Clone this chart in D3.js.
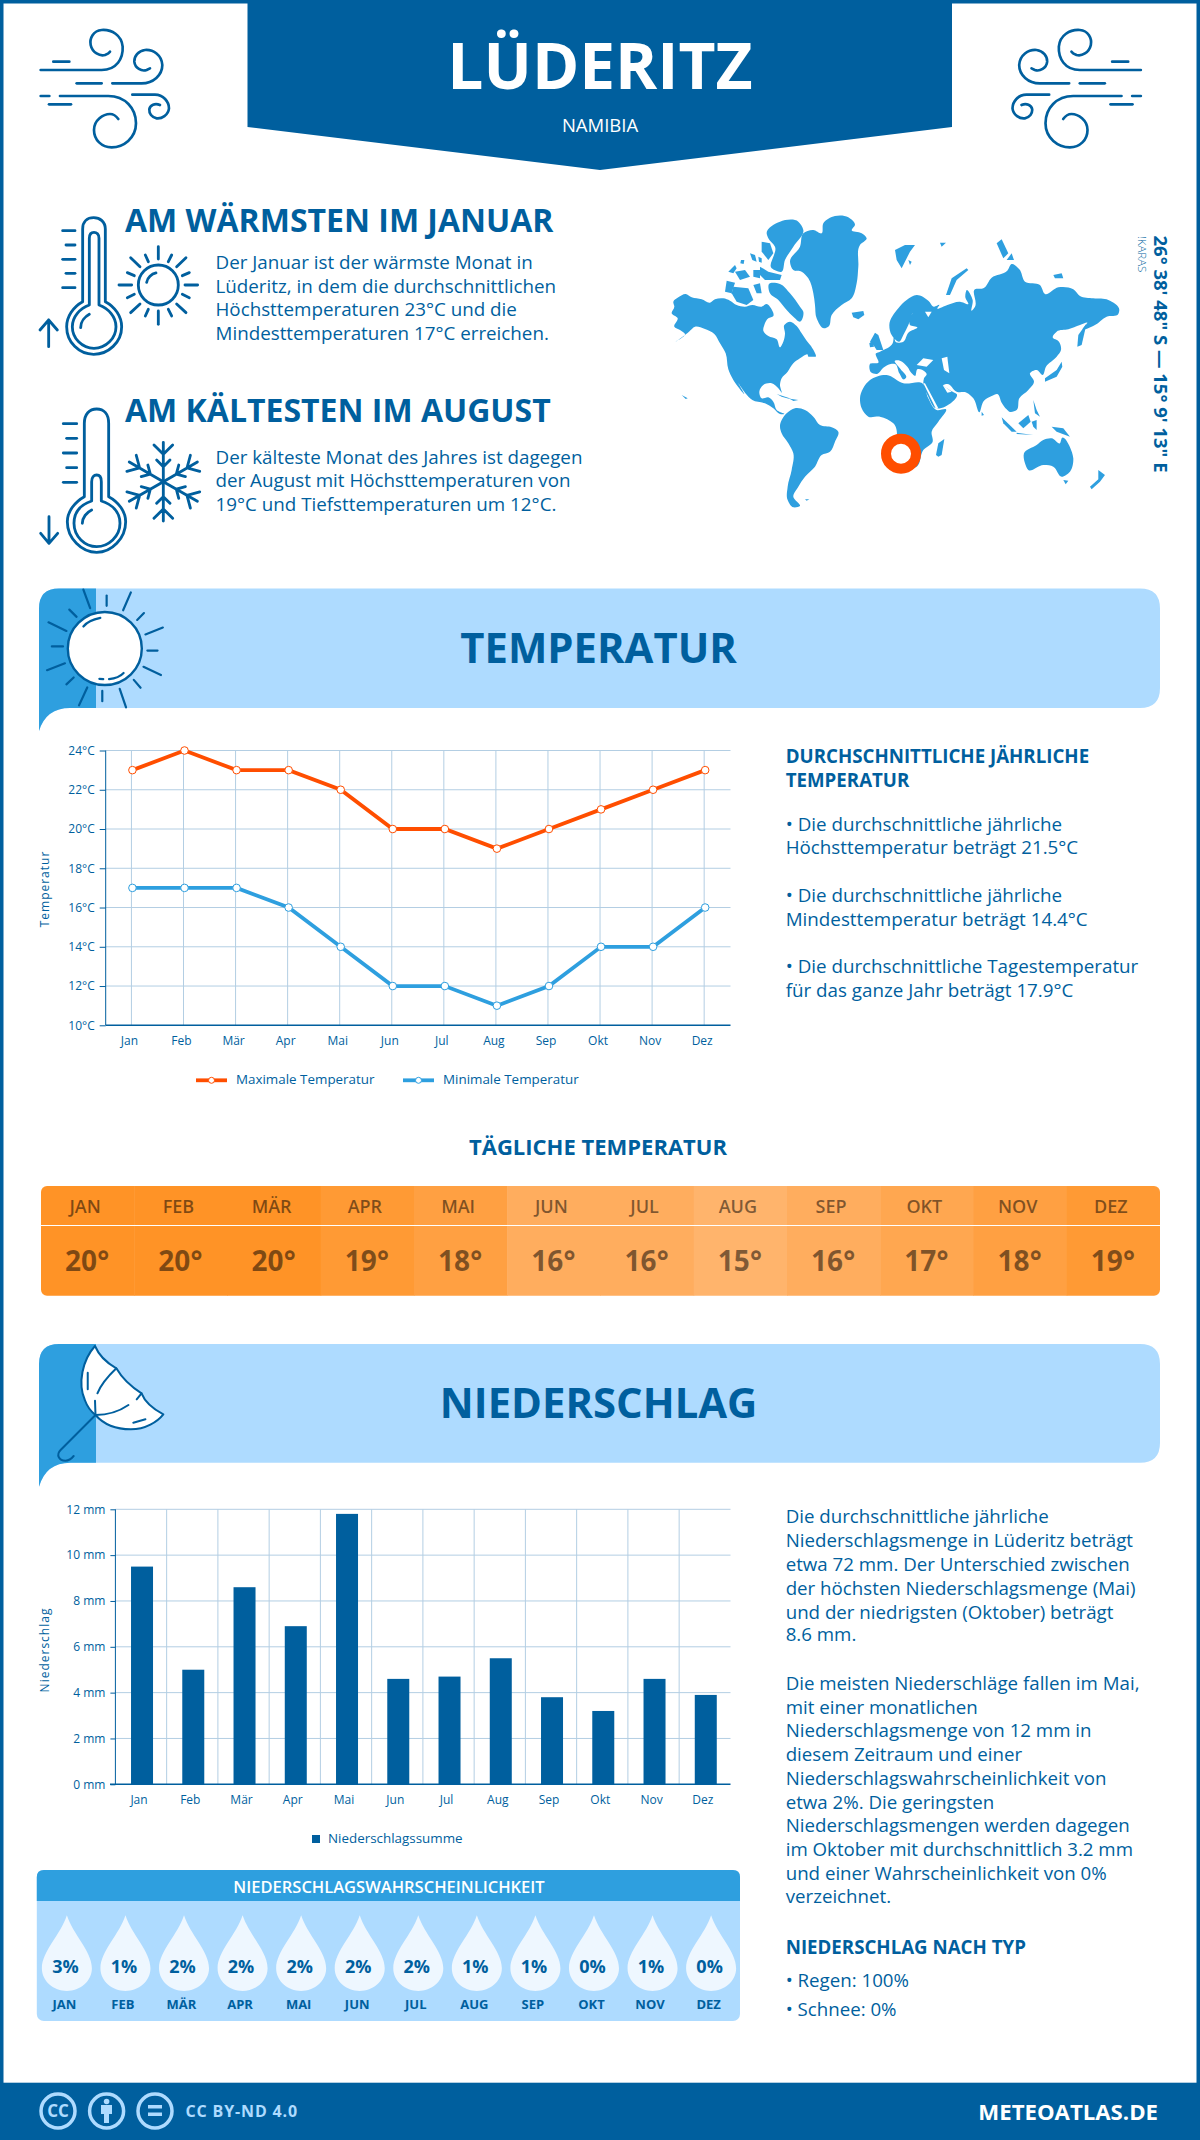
<!DOCTYPE html>
<html lang="de"><head><meta charset="utf-8"><title>Lüderitz</title>
<script src="https://cdnjs.cloudflare.com/ajax/libs/d3/7.8.5/d3.min.js"></script>
<style>html,body{margin:0;padding:0;background:#fff}svg{display:block}text{font-family:"Open Sans",sans-serif}</style>
</head><body><svg id="c" width="1200" height="2140" viewBox="0 0 1200 2140"></svg>
<script>
const months=["Jan","Feb","Mär","Apr","Mai","Jun","Jul","Aug","Sep","Okt","Nov","Dez"];
const maxTemp=[23,24,23,23,22,20,20,19,20,21,22,23];
const minTemp=[17,17,17,16,14,12,12,11,12,14,14,16];
const dailyTemp=[20,20,20,19,18,16,16,15,16,17,18,19];
const precip=[9.5,5,8.6,6.9,11.8,4.6,4.7,5.5,3.8,3.2,4.6,3.9];
const precipProb=[3,1,2,2,2,2,2,1,1,0,1,0];
const tempTicks=[10,12,14,16,18,20,22,24];
const precipTicks=[0,2,4,6,8,10,12];

const DARK="#005f9e",MID="#2e9fdf",LIGHT="#aedbff",RED="#ff4e00";
const svg=d3.select("#c");
function txt(p,x,y,s,o={}){const t=p.append("text").attr("x",x).attr("y",y).text(s)
 .attr("fill",o.fill||DARK).attr("font-size",o.size||19).attr("font-weight",o.weight||400)
 .attr("text-anchor",o.anchor||"start");
 if(o.ls)t.attr("letter-spacing",o.ls);if(o.op)t.attr("fill-opacity",o.op);if(o.tf)t.attr("transform",o.tf);return t;}
function lines(arr,x,ys,o){arr.forEach((s,i)=>txt(svg,x,ys[i],s,o));}

/* frame + header */
svg.append("rect").attr("x",1.75).attr("y",1.75).attr("width",1196.5).attr("height",2136).attr("fill","#fff").attr("stroke",DARK).attr("stroke-width",3.5);
svg.append("path").attr("fill",DARK).attr("d","M247.5,0H952V127L600,170L247.5,127Z");
txt(svg,600,88.5,"LÜDERITZ",{fill:"#fff",size:64,weight:700,anchor:"middle"});
txt(svg,600,131.5,"NAMIBIA",{fill:"#fff",size:18.5,anchor:"middle"});

/* wind icons */
const windPaths=["M32,150H215C260,150 280,115 278,80C275,45 245,28 215,30C190,32 178,55 182,75C187,98 210,110 225,105C232,102 238,98 240,95","M70,125H118","M247,190H335C370,190 397,165 397,135C395,105 370,88 345,90C325,92 312,110 313,125C315,145 335,155 350,150L360,145","M140,190H215","M32,228H58","M90,228H235C285,228 318,265 318,310C318,355 280,382 245,382C215,382 192,360 192,330C192,300 220,282 240,282C250,282 260,290 265,297","M57,253H123","M307,224H375C400,224 417,245 417,265C415,285 395,297 380,295C365,292 357,280 358,268C360,255 375,248 390,255"];
function icon(tf,paths,sw){const g=svg.append("g").attr("transform",tf).attr("fill","none").attr("stroke",DARK).attr("stroke-width",sw).attr("stroke-linecap","round").attr("stroke-linejoin","round");
 g.selectAll("path").data(paths).join("path").attr("d",d=>d);return g;}
icon("translate(30,20) scale(.3333)",windPaths,8);
icon("translate(1151.5,20) scale(-.3333,.3333)",windPaths,8);

/* thermometers */
const ticks5=(a,b,c,ys)=>ys.map((y,i)=>`M${i%2?b:a},${y}H${c}`);
const thermoHot=["M158,290V72C158,50 172,38 191,38C210,38 226,50 226,72V290C255,305 275,335 275,365C275,412 235,448 191,448C147,448 110,412 110,365C110,335 130,305 158,290Z","M178,300V100C178,88 184,82 192,82C200,82 207,88 207,100V300C235,310 258,335 258,365C258,400 228,430 192,430C156,430 127,400 127,365C127,335 150,310 178,300Z","M152,368C152,350 165,335 178,328","M56,425V345M30,375L56,345L82,375",...ticks5(98,108,135,[77,120,163,205,248])];
const sunSmall=["M385,125V162","M385,318V358","M267,240H305","M465,240H503","M302,158L330,185","M468,158L440,185","M302,323L330,297","M468,323L440,297","M346,150L355,170","M425,150L415,170","M292,203L313,212","M478,203L457,212","M292,278L313,268","M478,278L457,268","M346,333L355,313","M425,333L415,313","M350,232C352,218 365,207 378,204"];
const g1=icon("translate(30,205) scale(.3333)",[...thermoHot,...sunSmall],8.5);
g1.append("circle").attr("cx",385).attr("cy",240).attr("r",60);
const thermoCold=["M163,305V85C163,58 178,42 200,42C222,42 236,58 236,85V305C265,320 287,350 287,380C287,430 245,472 200,472C155,472 112,430 112,380C112,350 135,320 163,305Z","M185,318V260C185,247 192,240 200,240C208,240 214,247 214,260V318C245,328 270,350 270,385C270,425 235,455 200,455C165,455 132,425 132,385C132,350 155,328 185,318Z","M157,385C157,368 170,352 185,345","M57,365V445M32,415L57,445L83,415",...ticks5(100,110,140,[86,130,174,218,262])];
const g2=icon("translate(30,395) scale(.3333)",thermoCold,8.5);
const flake=g2.append("g");
d3.range(6).forEach(i=>{flake.append("path").attr("transform",`rotate(${i*60} 400 260)`).attr("d","M400,260V142M372,150L400,178L428,150M380,195L400,215L420,195");});

/* intro text */
txt(svg,125,232,"AM WÄRMSTEN IM JANUAR",{size:32,weight:700});
lines(["Der Januar ist der wärmste Monat in","Lüderitz, in dem die durchschnittlichen","Höchsttemperaturen 23°C und die","Mindesttemperaturen 17°C erreichen."],215.5,[269,292.5,316,340],{size:18.8});
txt(svg,125,421.8,"AM KÄLTESTEN IM AUGUST",{size:32,weight:700});
lines(["Der kälteste Monat des Jahres ist dagegen","der August mit Höchsttemperaturen von","19°C und Tiefsttemperaturen um 12°C."],215.5,[463.5,487,510.5],{size:18.8});

/* world map: coast outlines (traced in 3x crop units) */
const mapWest=[
[[20,310],[28,290],[25,275],[40,262],[62,252],[80,262],[110,268],[135,278],[150,268],[175,265],[195,272],[215,285],[240,290],[262,285],[290,290],[305,282],[318,295],[325,318],[310,325],[298,345],[295,362],[310,378],[335,388],[345,412],[355,395],[360,372],[358,345],[375,335],[395,348],[410,370],[425,392],[438,408],[452,440],[430,432],[405,445],[385,460],[368,485],[350,505],[345,525],[350,548],[340,535],[320,520],[295,525],[283,545],[290,565],[310,562],[325,575],[335,600],[358,612],[345,612],[325,595],[300,580],[262,570],[240,548],[220,520],[238,552],[205,510],[190,478],[182,430],[165,400],[148,372],[118,356],[90,350],[72,365],[32,395],[60,372],[45,360],[28,350],[38,325]],
[[312,222],[345,222],[375,250],[405,290],[415,305],[405,335],[385,320],[365,300],[340,270],[315,250]],
[[205,230],[250,235],[265,270],[245,285],[215,275],[200,250]],[[185,212],[210,218],[200,250],[180,245]],[[265,225],[285,220],[290,250],[275,250]],
[[305,70],[345,35],[400,35],[415,60],[385,110],[360,150],[350,185],[320,175],[330,110],[310,85]],[[290,95],[315,100],[325,130],[310,150],[290,125]],
[[285,170],[310,185],[350,195],[345,210],[300,210],[285,195]],[[190,185],[210,165],[215,175],[205,190]],[[210,185],[240,180],[255,200],[225,210]],[[265,180],[285,180],[285,205],[265,200]],
[[255,130],[270,135],[275,155],[262,150]],[[228,150],[238,150],[236,162],[226,160]],[[280,140],[290,145],[290,158],[282,155]],[[425,425],[445,430],[450,440],[430,440]],
[[375,155],[405,110],[415,70],[445,60],[470,70],[475,40],[510,18],[550,22],[570,45],[560,60],[590,70],[605,85],[585,105],[580,170],[575,220],[560,265],[530,285],[500,315],[490,350],[478,355],[455,325],[450,285],[445,250],[430,205],[410,185],[385,180]],
[[560,308],[595,303],[598,315],[580,328],[565,322]],
[[345,650],[365,610],[390,595],[420,600],[445,620],[465,645],[500,652],[520,665],[510,695],[495,725],[470,735],[450,770],[420,800],[400,830],[385,860],[405,888],[385,892],[368,870],[368,830],[380,780],[385,730],[370,700],[350,670]],
[[335,552],[365,562],[385,570],[350,560]],[[375,566],[400,570],[385,573]],[[50,555],[68,565],[62,567]],[[420,868],[433,868],[425,872]]];
const mapEast=[
[[30,462],[33,487],[50,492],[72,472],[92,462],[105,462],[118,490],[132,508],[138,503],[122,478],[105,452],[120,452],[142,470],[155,490],[165,498],[172,478],[195,485],[200,492],[192,505],[190,520],[205,560],[228,595],[255,590],[290,552],[272,542],[250,525],[262,522],[290,545],[320,548],[340,565],[358,607],[372,572],[395,558],[412,552],[425,578],[440,598],[448,605],[470,600],[478,565],[505,540],[522,515],[510,490],[530,480],[548,495],[558,470],[590,440],[603,420],[597,395],[578,382],[590,365],[625,358],[660,345],[682,338],[668,358],[705,345],[740,320],[775,312],[778,300],[745,270],[700,265],[660,258],[640,238],[595,232],[555,252],[540,225],[495,215],[478,178],[455,162],[442,182],[395,203],[370,235],[345,238],[345,290],[335,302],[338,270],[320,240],[316,262],[325,282],[300,275],[262,285],[232,295],[238,285],[222,290],[205,272],[170,255],[140,270],[115,295],[88,345],[95,375],[118,395],[130,375],[145,345],[158,308],[150,345],[172,352],[145,368],[130,395],[108,397],[102,370],[98,400],[60,425],[48,430],[55,458]],
[[30,395],[45,368],[55,375],[70,420],[50,420],[40,405]],[[28,400],[38,392],[42,410],[30,412]],
[[0,565],[30,510],[80,495],[130,520],[187,520],[205,565],[230,600],[258,598],[235,635],[215,665],[218,695],[190,720],[170,770],[135,775],[115,730],[100,640],[60,620],[25,620],[5,595]],
[[228,735],[235,700],[253,687],[245,735],[235,740]],[[425,622],[470,665],[455,665],[430,640]],[[470,668],[520,675],[470,672]],[[475,640],[505,615],[512,635],[490,655]],[[515,635],[530,630],[530,660],[520,650]],[[575,650],[610,655],[630,680],[590,665]],[[520,570],[530,600],[540,620],[525,610]],[[555,505],[590,480],[605,455],[607,470],[590,500],[555,515]],[[655,375],[680,340],[665,405],[652,410]],[[365,605],[372,615],[365,617]],
[[492,730],[530,705],[550,690],[575,685],[600,700],[605,685],[640,745],[630,785],[605,800],[580,770],[550,765],[505,780],[495,760]],
[[610,810],[625,812],[617,823]],[[715,780],[735,795],[720,815],[695,838],[690,830],[715,808]],
[[105,120],[135,105],[165,105],[150,125],[125,175],[110,150]],[[145,150],[155,155],[150,165]],[[240,98],[258,98],[245,110]],
[[258,255],[275,205],[320,175],[325,180],[290,210],[270,255]],[[410,100],[425,88],[445,130],[430,145]],[[440,150],[455,130],[462,150]],[[580,195],[605,190],[610,205],[585,205]]];
const mapWhite=[[[170,465],[190,445],[220,450],[200,470]],[[245,445],[262,440],[268,490],[252,480]],[[248,525],[275,545],[262,548]],[[190,520],[195,520],[235,595],[228,597]],[[195,305],[215,305],[205,322]]];
const smooth=d3.line().curve(d3.curveCatmullRomClosed.alpha(1));
const sharp=d3.line().curve(d3.curveLinearClosed);
const ln=d=>d.length>8?smooth(d):sharp(d);
svg.append("g").attr("transform","translate(665,210) scale(.3333)").selectAll("path").data(mapWest).join("path").attr("fill",MID).attr("d",ln);
const east=svg.append("g").attr("transform","translate(860,210) scale(.3333)");
east.selectAll("path.l").data(mapEast).join("path").attr("class","l").attr("fill",MID).attr("d",ln);
east.selectAll("path.w").data(mapWhite).join("path").attr("class","w").attr("fill","#fff").attr("d",sharp);
svg.append("circle").attr("cx",901).attr("cy",453.7).attr("r",15).attr("fill","#fff").attr("stroke",RED).attr("stroke-width",10);
txt(svg,0,0,"26° 38' 48\" S — 15° 9' 13\" E",{size:18.5,weight:700,tf:"translate(1154,235.5) rotate(90)"});
txt(svg,0,0,"!KARAS",{size:11.5,weight:300,tf:"translate(1138,236) rotate(90)"});

/* section banners */
function banner(y0,y1,y2,title,base){
 svg.append("path").attr("fill",LIGHT).attr("d",`M39,${y2}V${y0+20}Q39,${y0} 59,${y0}H1140Q1160,${y0} 1160,${y0+20}V${y1-20}Q1160,${y1} 1140,${y1}H70Q46,${y1} 39,${y2}Z`);
 svg.append("path").attr("fill",MID).attr("d",`M39,${y2}V${y0+20}Q39,${y0} 59,${y0}H96V${y1}H70Q46,${y1} 39,${y2}Z`);
 txt(svg,598.6,base,title,{size:41.8,weight:700,anchor:"middle"});
}
banner(588.6,708,731,"TEMPERATUR",662.6);
banner(1344,1462.7,1486.7,"NIEDERSCHLAG",1418);

/* big sun */
const zx=x=>x/2.063,zy=y=>580+y/2.904;
const bigRays=[[172,28,186,82],[220,45,220,75],[254,88,270,36],[283,116,297,96],[300,158,336,138],[304,205,325,205],[296,252,332,276],[276,290,290,313],[247,316,260,370],[211,322,211,352],[180,312,163,364],[152,283,137,303],[134,242,97,262],[130,193,107,193],[137,148,100,123],[158,107,143,86]];
svg.append("g").attr("stroke",DARK).attr("stroke-width",2.2).attr("stroke-linecap","round").selectAll("line").data(bigRays).join("line")
 .attr("x1",d=>zx(d[0])).attr("y1",d=>zy(d[1])).attr("x2",d=>zx(d[2])).attr("y2",d=>zy(d[3]));
svg.append("ellipse").attr("cx",104.8).attr("cy",648.5).attr("rx",37).attr("ry",36.5).attr("fill","#fff").attr("stroke",DARK).attr("stroke-width",2.4);
svg.append("path").attr("fill","none").attr("stroke",DARK).attr("stroke-width",2.2).attr("stroke-linecap","round").attr("d",`M${zx(172)},${zy(135)}Q${zx(182)},${zy(117)} ${zx(207)},${zy(110)}M${zx(225)},${zy(288)}Q${zx(245)},${zy(285)} ${zx(255)},${zy(270)}M${zx(205)},${zy(287)}L${zx(213)},${zy(288)}`);

/* umbrella */
const ux=x=>x/2.063,uy=y=>1120+y/3;
const P=(...a)=>a.map(d=>`${ux(d[0])},${uy(d[1])}`);
const um=svg.append("g").attr("fill","none").attr("stroke",DARK).attr("stroke-width",2).attr("stroke-linecap","round").attr("stroke-linejoin","round");
um.append("path").attr("fill","#fff").attr("d",`M${P([196,678])}C${P([170,720],[160,790],[175,840])}C${P([180,860],[188,875],[197,885])}C${P([215,915],[240,928],[270,928])}C${P([300,928],[325,905],[337,883])}C${P([320,870],[300,850],[292,820])}C${P([270,800],[250,770],[240,745])}C${P([222,730],[205,710],[196,678])}Z`);
um.append("path").attr("d",`M${P([240,745])}C${P([222,770],[208,795],[201,820])}M${P([196,842])}L${P([197,885])}M${P([292,820])}L${P([282,838])}M${P([265,855])}C${P([245,875],[220,885],[197,885])}M${P([181,758])}L${P([181,808])}M${P([275,908])}L${P([300,898])}M${P([197,885])}L${P([125,990])}C${P([115,1005],[122,1022],[135,1022])}C${P([142,1022],[148,1015],[152,1008])}`);

/* temperature chart */
const tX=d3.scaleBand().domain(months).range([105.4,730.2]);
const tY=d3.scaleLinear().domain([10,24]).range([1025.3,750.5]);
const tc=svg.append("g");
tc.append("g").selectAll("line").data(tempTicks.slice(1)).join("line").attr("x1",105.7).attr("x2",730.5).attr("y1",d=>tY(d)).attr("y2",d=>tY(d)).attr("stroke","#b3cee3");
tc.append("g").selectAll("line").data(months).join("line").attr("x1",d=>tX(d)+tX.bandwidth()/2).attr("x2",d=>tX(d)+tX.bandwidth()/2).attr("y1",750.5).attr("y2",1025.3).attr("stroke","#b3cee3");
function styleAxis(g,size){g.selectAll("path.domain,line").attr("stroke",DARK);g.selectAll("text").attr("fill",DARK).attr("font-size",size).attr("font-family",'"Open Sans",sans-serif');}
const tya=tc.append("g").attr("transform","translate(105.7,0)").call(d3.axisLeft(tY).tickValues(tempTicks).tickFormat(d=>d+"°C").tickSize(6).tickPadding(5));
styleAxis(tya,12);tya.select("path.domain").attr("d","M0,750.5V1025.3");
const txa=tc.append("g").attr("transform","translate(0,1025.3)").call(d3.axisBottom(tX).tickSize(0).tickPadding(11));
styleAxis(txa,12);txa.select("path.domain").attr("stroke-width",1.5).attr("d","M105.7,0H730.5");
txa.selectAll("text").attr("dx",-2);
txt(svg,0,0,"Temperatur",{size:12,ls:1,anchor:"middle",tf:"translate(49,889) rotate(-90)"});
const tLine=d3.line().x((d,i)=>tX(months[i])+tX.bandwidth()/2+1).y(d=>tY(d));
[[maxTemp,RED],[minTemp,MID]].forEach(([s,c])=>{
 tc.append("path").attr("d",tLine(s)).attr("fill","none").attr("stroke",c).attr("stroke-width",3.8);
 tc.append("g").selectAll("circle").data(s).join("circle").attr("cx",(d,i)=>tX(months[i])+tX.bandwidth()/2+1).attr("cy",d=>tY(d)).attr("r",3.8).attr("fill","#fff").attr("stroke",c).attr("stroke-width",1);
});
[[196,"Maximale Temperatur",RED,236],[403,"Minimale Temperatur",MID,443]].forEach(([x,s,c,tx])=>{
 svg.append("line").attr("x1",x).attr("x2",x+31).attr("y1",1080.3).attr("y2",1080.3).attr("stroke",c).attr("stroke-width",3.8);
 svg.append("circle").attr("cx",x+15.5).attr("cy",1080.3).attr("r",3).attr("fill","#fff").attr("stroke",c);
 txt(svg,tx,1084,s,{size:13.4});
});

/* right temp text */
lines(["DURCHSCHNITTLICHE JÄHRLICHE","TEMPERATUR"],785.7,[763.3,786.7],{size:18.7,weight:700});
lines(["• Die durchschnittliche jährliche","Höchsttemperatur beträgt 21.5°C","• Die durchschnittliche jährliche","Mindesttemperatur beträgt 14.4°C","• Die durchschnittliche Tagestemperatur","für das ganze Jahr beträgt 17.9°C"],785.7,[830.7,854,901.7,925.7,973.3,996.7],{size:18.8});

/* daily temperature */
txt(svg,598,1154.7,"TÄGLICHE TEMPERATUR",{size:22,weight:700,anchor:"middle"});
const cellX=d3.scaleBand().domain(months).range([41,1160]);
const cellC=d3.scaleLinear().domain([15,20]).range(["#ffb46c","#ff9326"]);
const clip=svg.append("defs").append("clipPath").attr("id","tb");clip.append("rect").attr("x",41).attr("y",1186).attr("width",1119).attr("height",109.7).attr("rx",6);
const dt=svg.append("g").attr("clip-path","url(#tb)");
dt.selectAll("rect").data(months).join("rect").attr("x",d=>cellX(d)).attr("y",1186).attr("width",cellX.bandwidth()+.5).attr("height",110).attr("fill",(d,i)=>cellC(dailyTemp[i]));
svg.append("line").attr("x1",41).attr("x2",1160).attr("y1",1225.5).attr("y2",1225.5).attr("stroke","#fff");
months.forEach((m,i)=>{const c=cellX(m)+cellX.bandwidth()/2;
 txt(svg,c-2.5,1212.7,m.toUpperCase(),{fill:"#000",op:.5,size:18,weight:600,anchor:"middle"});
 txt(svg,c-.5,1270.7,dailyTemp[i]+"°",{fill:"#000",op:.5,size:28,weight:700,anchor:"middle"});
});

/* precipitation chart */
const pX=d3.scaleBand().domain(months).range([115.4,730.4]);
const pY=d3.scaleLinear().domain([0,12]).range([1784.3,1509.3]);
const pc=svg.append("g");
pc.append("g").selectAll("line").data(precipTicks.slice(1)).join("line").attr("x1",115.4).attr("x2",730.5).attr("y1",d=>pY(d)).attr("y2",d=>pY(d)).attr("stroke","#b3cee3");
pc.append("g").selectAll("line").data(months.slice(1)).join("line").attr("x1",d=>pX(d)).attr("x2",d=>pX(d)).attr("y1",1509.3).attr("y2",1784.3).attr("stroke","#b3cee3");
pc.append("g").selectAll("rect").data(precip).join("rect").attr("x",(d,i)=>pX(months[i])+pX.bandwidth()/2+1-11).attr("width",22).attr("y",d=>pY(d)).attr("height",d=>pY(0)-pY(d)).attr("fill",DARK);
const pya=pc.append("g").attr("transform","translate(115.4,0)").call(d3.axisLeft(pY).tickValues(precipTicks).tickFormat(d=>d+" mm").tickSize(5).tickPadding(5));
styleAxis(pya,12);pya.select("path.domain").attr("d","M0,1509.3V1784.3");
const pxa=pc.append("g").attr("transform","translate(0,1784.3)").call(d3.axisBottom(pX).tickSize(0).tickPadding(11));
styleAxis(pxa,12);pxa.select("path.domain").attr("stroke-width",1.5).attr("d","M110,0H730.5");
pxa.selectAll("text").attr("dx",-2);
txt(svg,0,0,"Niederschlag",{size:12,ls:1,anchor:"middle",tf:"translate(49,1650) rotate(-90)"});
svg.append("rect").attr("x",312).attr("y",1835).attr("width",8).attr("height",8).attr("fill",DARK);
txt(svg,328,1843.3,"Niederschlagssumme",{size:13.4});

/* right precipitation text */
lines(["Die durchschnittliche jährliche","Niederschlagsmenge in Lüderitz beträgt","etwa 72 mm. Der Unterschied zwischen","der höchsten Niederschlagsmenge (Mai)","und der niedrigsten (Oktober) beträgt","8.6 mm.","Die meisten Niederschläge fallen im Mai,","mit einer monatlichen","Niederschlagsmenge von 12 mm in","diesem Zeitraum und einer","Niederschlagswahrscheinlichkeit von","etwa 2%. Die geringsten","Niederschlagsmengen werden dagegen","im Oktober mit durchschnittlich 3.2 mm","und einer Wahrscheinlichkeit von 0%","verzeichnet."],785.7,[1523.4,1546.5,1570.5,1594.5,1618.5,1641,1689.6,1713.6,1736.7,1760.7,1784.7,1808.7,1831.9,1855.8,1879.8,1903.4],{size:18.7});
txt(svg,785.7,1954.3,"NIEDERSCHLAG NACH TYP",{size:18.7,weight:700});
lines(["• Regen: 100%","• Schnee: 0%"],785.7,[1987,2016.2],{size:18.7});

/* probability box */
svg.append("rect").attr("x",36.8).attr("y",1870).attr("width",703.2).attr("height",151).attr("rx",7).attr("fill",LIGHT);
svg.append("path").attr("fill",MID).attr("d","M36.8,1901V1877Q36.8,1870 43.8,1870H733Q740,1870 740,1877V1901Z");
txt(svg,389,1893.3,"NIEDERSCHLAGSWAHRSCHEINLICHKEIT",{fill:"#fff",size:16.5,weight:600,anchor:"middle"});
const dX=d3.scaleBand().domain(months).range([37.6,740.4]);
const drops=svg.append("g");
drops.selectAll("path").data(precipProb).join("path").attr("fill","#eef7ff")
 .attr("transform",(d,i)=>`translate(${dX(months[i])+dX.bandwidth()/2},1915.3)`)
 .attr("d","M0,0C6,19 25,36 25,53C25,66 13,75.7 0,75.7C-13,75.7 -25,66 -25,53C-25,36 -6,19 0,0Z");
months.forEach((m,i)=>{const c=dX(m)+dX.bandwidth()/2;
 txt(svg,c-1.5,1972.7,precipProb[i]+"%",{size:18,weight:700,anchor:"middle"});
 txt(svg,c-2.5,2009.3,m.toUpperCase(),{size:13,weight:700,anchor:"middle"});
});

/* footer */
svg.append("rect").attr("y",2082.7).attr("width",1200).attr("height",57.3).attr("fill",DARK);
const ccx=[58,106.6,155];
svg.append("g").selectAll("circle").data(ccx).join("circle").attr("cx",d=>d).attr("cy",2111).attr("r",17).attr("fill","none").attr("stroke",LIGHT).attr("stroke-width",3.5);
txt(svg,58,2117,"CC",{fill:LIGHT,size:17,weight:700,anchor:"middle"});
svg.append("circle").attr("cx",106.6).attr("cy",2101.5).attr("r",2.8).attr("fill",LIGHT);
svg.append("path").attr("fill",LIGHT).attr("d","M101,2105H112V2114H109V2123H104V2114H101Z");
svg.append("path").attr("fill",LIGHT).attr("d","M148,2105H162V2108.5H148ZM148,2112.5H162V2116H148Z");
txt(svg,185.5,2117,"CC BY-ND 4.0",{fill:LIGHT,size:16,weight:700,ls:.85});
txt(svg,1158,2120,"METEOATLAS.DE",{fill:"#fff",size:22.2,weight:700,anchor:"end"});
</script></body></html>
